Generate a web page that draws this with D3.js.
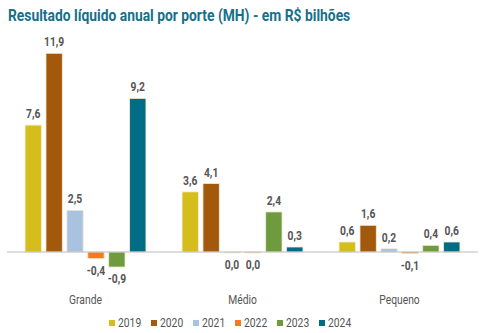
<!DOCTYPE html>
<html><head><meta charset="utf-8">
<script src="https://cdn.jsdelivr.net/npm/d3@7"></script>
<style>
body{margin:0;background:#fff;}
text{font-family:"Roboto","Liberation Sans",sans-serif;}
</style></head>
<body><svg id="c" width="485" height="333"></svg>
<script>
const categories = ["Grande","Médio","Pequeno"];
const years = ["2019","2020","2021","2022","2023","2024"];
const v2019 = [7.6, 3.6, 0.6];
const v2020 = [11.9, 4.1, 1.6];
const v2021 = [2.5, -0.03, 0.2];
const v2022 = [-0.4, -0.03, -0.1];
const v2023 = [-0.9, 2.4, 0.4];
const v2024 = [9.2, 0.3, 0.6];
const colors = ["#D5BE1B","#A2590B","#A8C2E0","#F07B25","#6F9A3D","#006C85"];
const series = [v2019,v2020,v2021,v2022,v2023,v2024];

const svg = d3.select("#c");
const narrow = (sel, x, yy, sx) => sel.attr("transform", `translate(${x},${yy}) scale(${sx},1)`);

narrow(svg.append("text"), 8, 21, 0.84)
  .attr("font-size",16.5).attr("font-weight","bold").attr("fill","#17708A")
  .text("Resultado líquido anual por porte (MH) - em R$ bilhões");

const x0 = d3.scaleBand().domain(categories).range([7,478]).paddingInner(0.23).paddingOuter(0.115);
const x1 = d3.scaleBand().domain(years).range([0,x0.bandwidth()]).paddingInner(0.22).paddingOuter(0);
const y = d3.scaleLinear().domain([-1,11.9]).range([252+16.7,53.3]);

const fmt = v => { const s = d3.format(".1f")(v).replace("\u2212","-"); return (s==="-0.0"?"0.0":s).replace(".",","); };

const g = svg.append("g");
categories.forEach((c,ci)=>{
  years.forEach((yr,yi)=>{
    const v = series[yi][ci];
    const bx = x0(c)+x1(yr);
    const top = y(Math.max(0,v)), bot = y(Math.min(0,v));
    g.append("rect").attr("x",bx).attr("y",top).attr("width",x1.bandwidth()).attr("height",Math.max(1,bot-top))
      .attr("fill",colors[yi]).attr("stroke","#f3ecd8").attr("stroke-width",0.8);
    narrow(g.append("text"), bx+x1.bandwidth()/2, v>=0 ? top-7 : bot+16, 0.86)
      .attr("text-anchor","middle").attr("font-size",12).attr("font-weight","bold").attr("fill","#555")
      .text(fmt(v));
  });
  narrow(svg.append("text"), x0(c)+x0.bandwidth()/2, 304, 0.86)
    .attr("text-anchor","middle").attr("font-size",12).attr("fill","#555").text(c);
});
svg.append("line").attr("x1",7).attr("x2",478).attr("y1",y(0)).attr("y2",y(0))
  .attr("stroke","#bbb").attr("stroke-width",1);

const lg = svg.append("g");
years.forEach((yr,i)=>{
  const lx = 109 + i*42;
  lg.append("rect").attr("x",lx).attr("y",320).attr("width",6).attr("height",6).attr("fill",colors[i]);
  narrow(lg.append("text"), lx+9, 327, 0.86).attr("font-size",12).attr("fill","#555").text(yr);
});
</script></body></html>
